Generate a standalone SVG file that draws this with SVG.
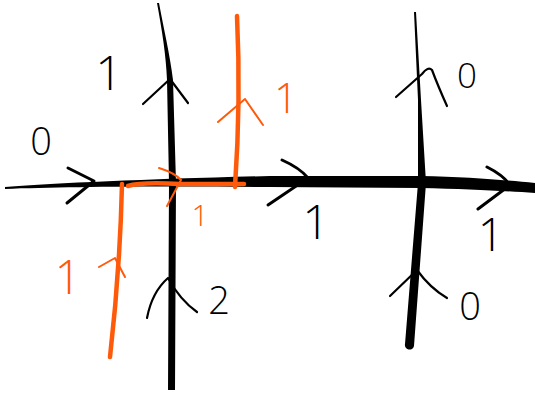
<svg xmlns="http://www.w3.org/2000/svg" width="535" height="395" viewBox="0 0 535 395">
<style>
.ink{fill:none;stroke:#000;stroke-width:2.2;stroke-linecap:round;stroke-linejoin:round}
.ink3{fill:none;stroke:#000;stroke-width:3;stroke-linecap:round;stroke-linejoin:round}
.or{fill:none;stroke:#ff5a0a;stroke-width:2;stroke-linecap:round;stroke-linejoin:round}
.orT{fill:none;stroke:#ff5a0a;stroke-width:4.5;stroke-linecap:round;stroke-linejoin:round}
.lbl{font-family:"Open Sans","Liberation Sans",sans-serif;font-weight:300;text-anchor:middle;fill:#000}
.olbl{font-family:"Open Sans","Liberation Sans",sans-serif;font-weight:300;text-anchor:middle;fill:#ff5a0a}
</style>
<rect width="535" height="395" fill="#fff"/>
<g id="connectors">
  <g id="black-lines">
    <path id="h-line" d="M5,187 C60,183 150,179 270,176 L420,176 C470,177 505,180 535,183 L535,193 C505,191 470,189 420,188 L270,187 C150,186 60,187 5,189 Z" fill="#000"/>
    <path id="v-line-1" d="M157,3 C162,30 166,55 167,80 L169,183 L168,390 L175,390 L176,183 L173,80 C170,55 164,30 159,3 Z" fill="#000"/>
    <path id="v-line-2" d="M414,12 L418,100 L418,183 L405,344 A4.5,4.5 0 0 0 414,346 L426,183 L421,100 L416,12 Z" fill="#000"/>
  </g>
  <g id="black-arrows">
    <path class="ink3" d="M68,168 L94,181 L67,203"/>
    <path class="ink3" d="M282,160 Q300,168 308,178 L268,205"/>
    <path class="ink3" d="M487,167 Q503,175 510,185 L478,209"/>
    <path class="ink" d="M143,104 L170,79 L188,103"/>
    <path class="ink" d="M147,318 Q152,292 168,278 Q180,300 197,312"/>
    <path class="ink" d="M396,97 L422,74 Q428,66 432,70 Q438,86 447,106"/>
    <path class="ink" d="M390,296 L417,270 Q430,288 447,298"/>
  </g>
  <g id="orange-lines">
    <path class="orT" d="M237,16 Q241,100 235,187"/>
    <path class="orT" d="M128,186 Q140,182 180,184 L244,184"/>
    <path class="orT" d="M122,184 Q120,270 110,357"/>
    <path class="or" d="M218,122 L245,99 L263,125"/>
    <path class="or" d="M159,168 Q175,173 181,180 L167,206"/>
    <path class="or" d="M99,267 L115,258 L125,277"/>
  </g>
</g>
<g id="labels">
  <text class="lbl" x="109" y="90" font-size="48">1</text>
  <text class="lbl" x="41" y="155" font-size="38">0</text>
  <text class="lbl" x="316" y="239" font-size="48">1</text>
  <text class="lbl" x="491" y="251" font-size="46">1</text>
  <text class="lbl" x="219" y="314" font-size="38">2</text>
  <text class="lbl" x="467" y="88" font-size="35">0</text>
  <text class="lbl" x="470" y="320" font-size="38">0</text>
  <text class="olbl" x="286" y="113" font-size="42">1</text>
  <text class="olbl" x="200" y="226" font-size="30">1</text>
  <text class="olbl" x="68" y="294" font-size="47">1</text>
</g>
</svg>
